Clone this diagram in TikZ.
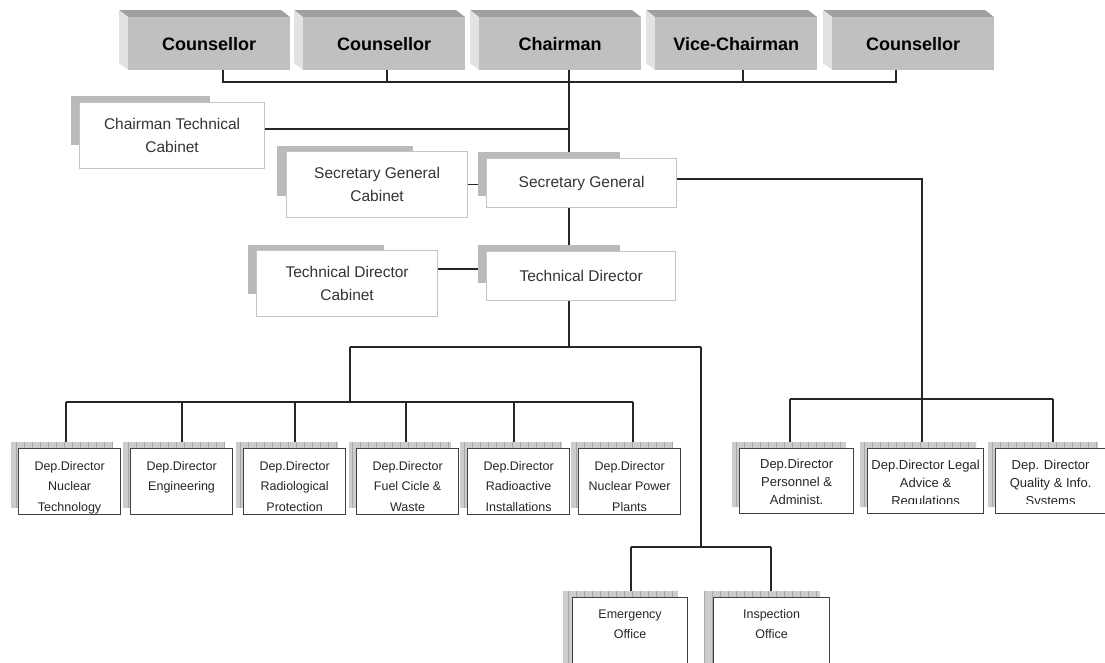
\documentclass[tikz,border=0pt]{standalone}
\usepackage{fontspec}
\setmainfont{Liberation Sans}
\definecolor{bevtop}{RGB}{160,160,160}
\definecolor{bevleft}{RGB}{226,226,226}
\definecolor{bevfront}{RGB}{192,192,192}
\definecolor{shadowgray}{RGB}{186,186,186}
\definecolor{lborder}{RGB}{196,196,196}
\definecolor{dborder}{RGB}{64,64,64}
\definecolor{hatchbg}{RGB}{204,204,204}
\definecolor{hatchln}{RGB}{168,168,168}
\pgfdeclarelayer{bg}
\pgfsetlayers{bg,main}
\tikzset{
  conn/.style={draw=black!85, line width=1.1pt},
  topbox/.style={anchor=north west, fill=bevfront, inner sep=0pt, minimum width=162pt, minimum height=53pt, font=\bfseries\fontsize{18}{20}\selectfont},
  lbox/.style={draw=lborder, line width=1.2pt, fill=white, anchor=north west, inner sep=0pt, align=center, text=black!80, font=\fontsize{15.5}{23}\selectfont},
  dep/.style={draw=dborder, line width=1.2pt, fill=white, anchor=north west, inner sep=0pt, minimum width=102pt, minimum height=66pt},
  deptext/.style={anchor=north, align=center, inner sep=0pt, text=black!85, font=\fontsize{12.5}{20.5}\selectfont},
  rtext/.style={anchor=north, align=center, inner sep=0pt, text=black!85, font=\fontsize{13}{18}\selectfont},
}
\newcommand\hatchrect[4]{%
  \fill[hatchbg] (#1,#2) rectangle (#3,#4);
  \begin{scope}
    \clip (#1,#2) rectangle (#3,#4);
    \draw[hatchln, line width=0.6pt, xstep=8, ystep=6] (#1,#2) grid (#3,#4);
  \end{scope}}
\begin{document}
\begin{tikzpicture}[x=1pt, y=-1pt]
\path[use as bounding box] (0,0) rectangle (1105,662);
\clip (0,0) rectangle (1105,662);

% top row of bevelled boxes
\foreach \i/\x/\t in {1/128/Counsellor, 2/303/Counsellor, 3/479/Chairman, 4/655/Vice-Chairman, 5/832/Counsellor}{
  \fill[bevtop] (\x-9,10) -- (\x+153,10) -- (\x+162,17) -- (\x,17) -- cycle;
  \fill[bevleft] (\x-9,10) -- (\x,17) -- (\x,70) -- (\x-9,63) -- cycle;
  \node[topbox] (c\i) at (\x,17) {\t};
}

% cabinet boxes with shadows
\fill[shadowgray] (71,96) rectangle (210,145);
\node[lbox, minimum width=185pt, minimum height=66pt] (ctc) at (79,102) {Chairman Technical\\Cabinet};
\fill[shadowgray] (277,146) rectangle (413,196);
\node[lbox, minimum width=181pt, minimum height=66pt] (sgc) at (286,151) {Secretary General\\Cabinet};
\fill[shadowgray] (478,152) rectangle (620,196);
\node[lbox, minimum width=190pt, minimum height=49pt] (sg) at (486,158) {Secretary General};
\fill[shadowgray] (248,245) rectangle (384,294);
\node[lbox, minimum width=181pt, minimum height=66pt] (tdc) at (256,250) {Technical Director\\Cabinet};
\fill[shadowgray] (478,245) rectangle (620,283);
\node[lbox, minimum width=189pt, minimum height=49pt] (td) at (486,251) {Technical Director};

% deputy director boxes (left group)
\foreach \i/\x/\t in {1/18/{Dep.Director\\Nuclear\\Technology}, 2/130/{Dep.Director\\Engineering}, 3/243/{Dep.Director\\Radiological\\Protection}, 4/356/{Dep.Director\\Fuel Cicle \&\\Waste}, 5/467/{Dep.Director\\Radioactive\\Installations}, 6/578/{Dep.Director\\Nuclear Power\\Plants}}{
  \hatchrect{\x-7}{442}{\x+95}{508}
  \node[dep] (d\i) at (\x,448) {};
  \node[deptext] (d\i t) at ([yshift=-13pt]d\i.north) {\t};
}

% deputy director boxes (right group)
\foreach \i/\x/\w/\c/\s/\t in {1/739/114/508/-11/{Dep.Director\\Personnel \&\\Administ.}, 2/867/116/503/-12/{Dep.Director Legal\\Advice \&\\Regulations}, 3/995/110/503/-12/{Dep. Director\\Quality \& Info.\\Systems}}{
  \hatchrect{\x-7}{442}{\x+\w-7}{507}
  \node[dep, minimum width=\w pt, minimum height=65pt] (r\i) at (\x,448) {};
  \begin{scope}
    \clip (\x,448) rectangle (\x+\w,\c);
    \node[rtext] (r\i t) at ([yshift=\s pt]r\i.north) {\t};
  \end{scope}
}

% office boxes
\hatchrect{563}{591}{678}{671}
\node[dep, minimum width=115pt, minimum height=80pt] (e1) at (572,597) {};
\node[deptext, font=\fontsize{12.5}{20}\selectfont] (e1t) at ([yshift=-12.5pt]e1.north) {Emergency\\Office};
\hatchrect{704}{591}{820}{671}
\node[dep, minimum width=116pt, minimum height=80pt] (e2) at (713,597) {};
\node[deptext, font=\fontsize{12.5}{20}\selectfont] (e2t) at ([yshift=-12.5pt]e2.north) {Inspection\\Office};

% connectors
\begin{pgfonlayer}{bg}
\draw[conn] (c1.south -| 223,0) -- (223,82) -- (896,82) -- (c5.south -| 896,0);
\draw[conn] (c2.south -| 387,0) -- (387,82);
\draw[conn] (c4.south -| 743,0) -- (743,82);
\draw[conn] (c3.south -| 569,0) -- (sg.north -| 569,0);
\draw[conn] (ctc.east |- 0,129) -- (569,129);
\draw[conn] (sgc.east) -- (sg.west |- sgc.east);
\draw[conn] (sg.south -| 569,0) -- (td.north -| 569,0);
\draw[conn] (tdc.east |- 0,269) -- (td.west |- 0,269);
\coordinate (j1) at (569,347);
\draw[conn] (td.south -| 569,0) -- (j1);
\draw[conn] (350,347) -- (701,347);
\draw[conn] (350,347) -- (350,402);
\draw[conn] (66,402) -- (633,402);
\foreach \i/\x in {1/66, 2/182, 3/295, 4/406, 5/514, 6/633}{
  \draw[conn] (\x,402) -- (d\i.north -| \x,0);
}
\draw[conn] (701,347) -- (701,547);
\draw[conn] (631,547) -- (771,547);
\draw[conn] (631,547) -- (e1.north -| 631,0);
\draw[conn] (771,547) -- (e2.north -| 771,0);
\draw[conn] (sg.east |- 0,179) -- (922,179) -- (922,399);
\draw[conn] (790,399) -- (1053,399);
\foreach \i/\x in {1/790, 2/922, 3/1053}{
  \draw[conn] (\x,399) -- (r\i.north -| \x,0);
}
\end{pgfonlayer}
\end{tikzpicture}
\end{document}
